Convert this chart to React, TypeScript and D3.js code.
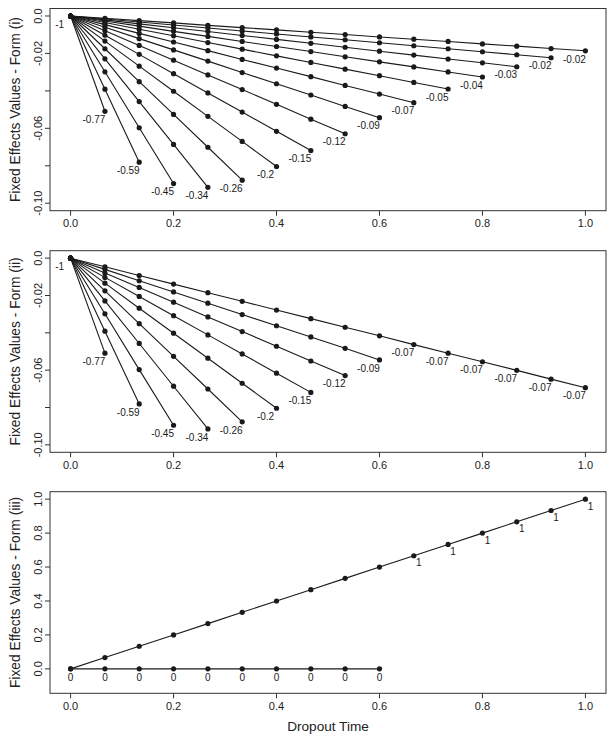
import React from "react";
import * as d3 from "d3";

// ---------- data ----------
const dropoutTimes = [0, 0.0667, 0.1333, 0.2, 0.2667, 0.3333, 0.4, 0.4667, 0.5333, 0.6, 0.6667, 0.7333, 0.8, 0.8667, 0.9333, 1.0];

// Form (i): one line per dropout pattern, values at successive dropout times
const formILines: number[][] = [
  [0, -0.0509],
  [0, -0.0391, -0.0781],
  [0, -0.0298, -0.0597, -0.0895],
  [0, -0.0229, -0.0457, -0.0686, -0.0915],
  [0, -0.0175, -0.0351, -0.0526, -0.0701, -0.0877],
  [0, -0.0134, -0.0268, -0.0402, -0.0536, -0.067, -0.0804],
  [0, -0.0103, -0.0205, -0.0308, -0.0411, -0.0513, -0.0616, -0.0719],
  [0, -0.0079, -0.0157, -0.0236, -0.0315, -0.0393, -0.0472, -0.0551, -0.0629],
  [0, -0.006, -0.0121, -0.0181, -0.0241, -0.0302, -0.0362, -0.0422, -0.0483, -0.0543],
  [0, -0.0046, -0.0093, -0.0139, -0.0185, -0.0232, -0.0278, -0.0324, -0.0371, -0.0417, -0.0463],
  [0, -0.0035, -0.0071, -0.0106, -0.0142, -0.0177, -0.0213, -0.0248, -0.0284, -0.0319, -0.0355, -0.039],
  [0, -0.0027, -0.0054, -0.0082, -0.0109, -0.0136, -0.0163, -0.019, -0.0218, -0.0245, -0.0272, -0.0299, -0.0326],
  [0, -0.0021, -0.0042, -0.0063, -0.0083, -0.0104, -0.0125, -0.0146, -0.0167, -0.0188, -0.0209, -0.023, -0.025, -0.0271],
  [0, -0.0016, -0.0032, -0.0048, -0.0064, -0.008, -0.0096, -0.0112, -0.0127, -0.0143, -0.0159, -0.0175, -0.0191, -0.0207, -0.0223],
  [0, -0.0012, -0.0025, -0.0037, -0.005, -0.0062, -0.0074, -0.0087, -0.0099, -0.0112, -0.0124, -0.0136, -0.0149, -0.0161, -0.0174, -0.0186],
];
const formILabels = ["-0.77", "-0.59", "-0.45", "-0.34", "-0.26", "-0.2", "-0.15", "-0.12", "-0.09", "-0.07", "-0.05", "-0.04", "-0.03", "-0.02", "-0.02"];

// Form (ii): first nine patterns, then a common line to the end
const formIILines: number[][] = [
  [0, -0.0509],
  [0, -0.0391, -0.0781],
  [0, -0.0298, -0.0597, -0.0895],
  [0, -0.0229, -0.0457, -0.0686, -0.0915],
  [0, -0.0175, -0.0351, -0.0526, -0.0701, -0.0877],
  [0, -0.0134, -0.0268, -0.0402, -0.0536, -0.067, -0.0804],
  [0, -0.0103, -0.0205, -0.0308, -0.0411, -0.0513, -0.0616, -0.0719],
  [0, -0.0079, -0.0157, -0.0236, -0.0315, -0.0393, -0.0472, -0.0551, -0.0629],
  [0, -0.006, -0.0121, -0.0181, -0.0241, -0.0302, -0.0362, -0.0422, -0.0483, -0.0545],
];
const formIILabels = ["-0.77", "-0.59", "-0.45", "-0.34", "-0.26", "-0.2", "-0.15", "-0.12", "-0.09"];
const formIILongLine = [0, -0.0046, -0.0093, -0.0139, -0.0185, -0.0231, -0.0278, -0.0324, -0.037, -0.0416, -0.0463, -0.0509, -0.0555, -0.0601, -0.0648, -0.0694];
const formIILongLabels = ["", "", "", "", "", "", "", "", "", "", "-0.07", "-0.07", "-0.07", "-0.07", "-0.07", "-0.07"];

// Form (iii)
const formIIIRise = [0, 0.0667, 0.1333, 0.2, 0.2667, 0.3333, 0.4, 0.4667, 0.5333, 0.6, 0.6667, 0.7333, 0.8, 0.8667, 0.9333, 1.0];
const formIIIRiseLabels = ["", "", "", "", "", "", "", "", "", "", "1", "1", "1", "1", "1", "1"];
const formIIIZero = [0, 0, 0, 0, 0, 0, 0, 0, 0, 0];
const formIIIZeroLabels = ["0", "0", "0", "0", "0", "0", "0", "0", "0", "0"];

const originLabel = "-1";

const xTicks = [0, 0.2, 0.4, 0.6, 0.8, 1.0];
const xTickLabels = ["0.0", "0.2", "0.4", "0.6", "0.8", "1.0"];
const yTicksNeg = [0, -0.02, -0.04, -0.06, -0.08, -0.1];
const yTickLabelsNeg = ["0.0", "-0.02", "", "-0.06", "", "-0.10"];
const yTicksIII = [0, 0.2, 0.4, 0.6, 0.8, 1.0];
const yTickLabelsIII = ["0.0", "0.2", "0.4", "0.6", "0.8", "1.0"];

// ---------- layout ----------
const W = 615;
const H = 742;
const LEFT = 50;
const RIGHT = 606;
const FONT = "'Liberation Sans', Arial, Helvetica, sans-serif";
const INK = "#1a1a1a";

type Series = {
  values: number[];
  labels: string[];
  dx: number;
  dy: number;
};

type PanelProps = {
  top: number;
  bottom: number;
  yDomain: [number, number];
  yTicks: number[];
  yTickLabels: string[];
  title: string;
  series: Series[];
};

const x = d3.scaleLinear().domain([-0.04, 1.04]).range([LEFT, RIGHT]);

function Panel({ top, bottom, yDomain, yTicks, yTickLabels, title, series }: PanelProps) {
  const pad = (yDomain[1] - yDomain[0]) * 0.04;
  const y = d3.scaleLinear().domain([yDomain[0] - pad, yDomain[1] + pad]).range([bottom, top]);
  const line = d3
    .line<number>()
    .x((_, i) => x(dropoutTimes[i]))
    .y((d) => y(d));
  const mid = (top + bottom) / 2;
  return (
    <g>
      {series.map((s, si) => (
        <path key={"l" + si} d={line(s.values) || ""} fill="none" stroke={INK} strokeWidth={1.1} />
      ))}
      {series.map((s, si) =>
        s.values.map((v, i) => (
          <circle key={"p" + si + "-" + i} cx={x(dropoutTimes[i])} cy={y(v)} r={2.6} fill={INK} />
        ))
      )}
      {series.map((s, si) =>
        s.labels.map((t, i) =>
          t ? (
            <text
              key={"t" + si + "-" + i}
              x={x(dropoutTimes[i]) + s.dx}
              y={y(s.values[i]) + s.dy}
              fontSize={10}
              fontFamily={FONT}
              textAnchor="middle"
              fill={INK}
            >
              {t}
            </text>
          ) : null
        )
      )}
      <rect x={LEFT} y={top} width={RIGHT - LEFT} height={bottom - top} fill="none" stroke="#333" strokeWidth={1} />
      {xTicks.map((t, i) => (
        <g key={"xt" + i}>
          <line x1={x(t)} x2={x(t)} y1={bottom} y2={bottom + 5} stroke="#333" strokeWidth={1} />
          <text x={x(t)} y={bottom + 16.7} fontSize={11} fontFamily={FONT} textAnchor="middle" fill="#222">
            {xTickLabels[i]}
          </text>
        </g>
      ))}
      {yTicks.map((t, i) => (
        <g key={"yt" + i}>
          <line x1={LEFT - 5} x2={LEFT} y1={y(t)} y2={y(t)} stroke="#333" strokeWidth={1} />
          {yTickLabels[i] ? (
            <text
              transform={`translate(${LEFT - 8.5},${y(t)}) rotate(-90)`}
              fontSize={11}
              fontFamily={FONT}
              textAnchor="middle"
              fill="#222"
            >
              {yTickLabels[i]}
            </text>
          ) : null}
        </g>
      ))}
      <text
        transform={`translate(20,${mid}) rotate(-90)`}
        fontSize={13.8}
        fontFamily={FONT}
        textAnchor="middle"
        fill="#222"
      >
        {title}
      </text>
    </g>
  );
}

export default function App() {
  const seriesI: Series[] = formILines.map((vals, i) => ({
    values: vals,
    labels: vals.map((_, j) => (j === vals.length - 1 ? formILabels[i] : j === 0 && i === 0 ? originLabel : "")),
    dx: -11,
    dy: 11.7,
  }));
  const seriesII: Series[] = [
    ...formIILines.map((vals, i) => ({
      values: vals,
      labels: vals.map((_, j) => (j === vals.length - 1 ? formIILabels[i] : j === 0 && i === 0 ? originLabel : "")),
      dx: -11,
      dy: 11.7,
    })),
    { values: formIILongLine, labels: formIILongLabels, dx: -11, dy: 11.7 },
  ];
  const seriesIII: Series[] = [
    { values: formIIIRise, labels: formIIIRiseLabels, dx: 5, dy: 10.5 },
    { values: formIIIZero, labels: formIIIZeroLabels, dx: 0, dy: 11.7 },
  ];
  return (
    <svg width={W} height={H} style={{ position: "absolute", left: 0, top: 0, background: "#fff" }}>
      <rect x={0} y={0} width={W} height={H} fill="#fff" />
      <Panel
        top={8.5}
        bottom={210.7}
        yDomain={[-0.1, 0]}
        yTicks={yTicksNeg}
        yTickLabels={yTickLabelsNeg}
        title="Fixed Effects Values - Form (i)"
        series={seriesI}
      />
      <Panel
        top={250.7}
        bottom={452.3}
        yDomain={[-0.1, 0]}
        yTicks={yTicksNeg}
        yTickLabels={yTickLabelsNeg}
        title="Fixed Effects Values - Form (ii)"
        series={seriesII}
      />
      <Panel
        top={491.7}
        bottom={693.3}
        yDomain={[-0.1, 1]}
        yTicks={yTicksIII}
        yTickLabels={yTickLabelsIII}
        title="Fixed Effects Values - Form (iii)"
        series={seriesIII}
      />
      <text x={(LEFT + RIGHT) / 2} y={730.7} fontSize={13.6} fontFamily={FONT} textAnchor="middle" fill="#222">
        Dropout Time
      </text>
    </svg>
  );
}
